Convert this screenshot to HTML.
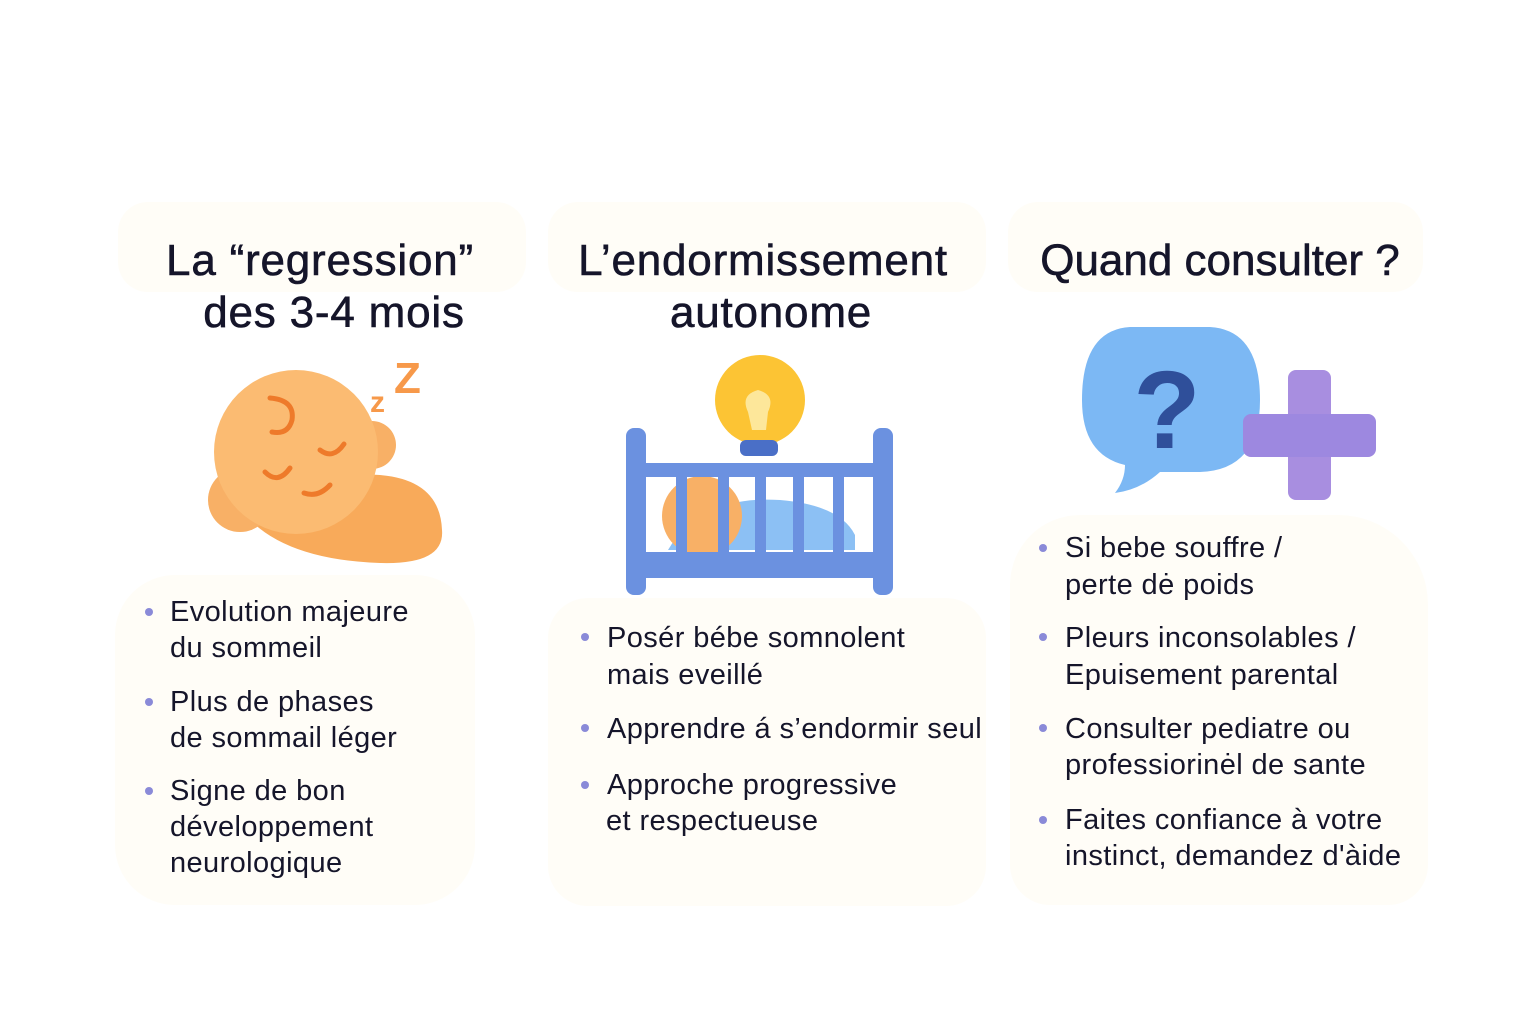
<!DOCTYPE html>
<html><head><meta charset="utf-8"><style>
body{margin:0;width:1536px;height:1024px;background:#fff;position:relative;overflow:hidden;font-family:"Liberation Sans",sans-serif;color:#15152a}
.card{position:absolute;background:#fffdf7;border-radius:30px}
.t{position:absolute;font-size:44px;line-height:52px;white-space:nowrap;transform:translateX(-50%);letter-spacing:0.8px;-webkit-text-stroke:0.6px #15152a}
.l{position:absolute;font-size:29px;line-height:36px;white-space:nowrap;letter-spacing:0.4px}
.b{position:absolute;width:8px;height:8px;border-radius:50%;background:#8a8ad8}
</style></head><body>
<div class="card" style="left:118px;top:202px;width:408px;height:90px"></div>
<div class="card" style="left:548px;top:202px;width:438px;height:90px"></div>
<div class="card" style="left:1008px;top:202px;width:415px;height:90px"></div>
<div class="card" style="left:115px;top:575px;width:360px;height:330px;border-radius:60px"></div>
<div class="card" style="left:548px;top:598px;width:438px;height:308px;border-radius:40px"></div>
<div class="card" style="left:1010px;top:515px;width:418px;height:390px;border-radius:70px 90px 40px 40px"></div>

<div class="t" style="left:320px;top:235px">La “regression”</div>
<div class="t" style="left:334px;top:287px">des 3-4 mois</div>
<div class="t" style="left:763px;top:235px">L’endormissement</div>
<div class="t" style="left:771px;top:287px">autonome</div>
<div class="t" style="left:1220px;top:235px;letter-spacing:0px">Quand consulter ?</div>

<svg style="position:absolute;left:0;top:0" width="1536" height="1024">
<path d="M250 520 Q300 470 380 475 Q440 480 442 530 Q445 565 380 563 Q290 560 250 520Z" fill="#f8aa5a"/>
<circle cx="240" cy="500" r="32" fill="#f8b066"/>
<circle cx="372" cy="445" r="24" fill="#f8b066"/>
<circle cx="296" cy="452" r="82" fill="#fbbb72"/>
<g fill="none" stroke="#ee7a2a" stroke-width="5" stroke-linecap="round">
<path d="M270 398 Q295 400 292 420 Q288 435 272 432"/>
<path d="M320 450 Q333 460 344 444"/>
<path d="M265 472 Q278 485 290 468"/>
<path d="M304 493 Q318 498 330 485"/>
</g>
<text x="370" y="412" font-size="30" font-weight="bold" fill="#f7994a" font-family="Liberation Sans">z</text>
<text x="394" y="393" font-size="44" font-weight="bold" fill="#f7994a" font-family="Liberation Sans">Z</text>
<circle cx="760" cy="400" r="45" fill="#fcc434"/>
<path d="M748 412 Q740 395 758 390 Q776 395 768 412 L766 430 L752 430Z" fill="#fde79a"/>
<rect x="740" y="440" width="38" height="16" rx="6" fill="#4a6fc7"/>
<path d="M668 550 Q700 495 780 500 Q840 505 855 535 L855 550Z" fill="#8cc0f4"/>
<circle cx="702" cy="516" r="40" fill="#f8b066"/>
<rect x="626" y="428" width="20" height="167" rx="8" fill="#6b91e0"/>
<rect x="873" y="428" width="20" height="167" rx="8" fill="#6b91e0"/>
<rect x="640" y="463" width="240" height="14" fill="#6b91e0"/>
<rect x="640" y="552" width="240" height="26" fill="#6b91e0"/>
<g fill="#6b91e0"><rect x="676" y="477" width="11" height="75"/><rect x="718" y="477" width="11" height="75"/><rect x="755" y="477" width="11" height="75"/><rect x="793" y="477" width="11" height="75"/><rect x="833" y="477" width="11" height="75"/></g>
<path d="M1130 327 L1210 327 Q1260 330 1260 400 Q1260 470 1200 472 L1160 472 Q1140 490 1115 493 Q1125 480 1125 465 Q1082 455 1082 400 Q1082 330 1130 327Z" fill="#7cb8f4"/>
<text x="1167" y="448" font-size="110" font-weight="bold" fill="#2f4f9a" text-anchor="middle" font-family="Liberation Sans">?</text>
<rect x="1288" y="370" width="43" height="130" rx="8" fill="#a88ee0"/>
<rect x="1243" y="414" width="133" height="43" rx="8" fill="#9d88e0"/>
</svg>

<div class="b" style="left:145px;top:608px"></div>
<div class="l" style="left:170px;top:594px">Evolution majeure</div>
<div class="l" style="left:170px;top:630px">du sommeil</div>
<div class="b" style="left:145px;top:698px"></div>
<div class="l" style="left:170px;top:684px">Plus de phases</div>
<div class="l" style="left:170px;top:720px">de sommail léger</div>
<div class="b" style="left:145px;top:787px"></div>
<div class="l" style="left:170px;top:773px">Signe de bon</div>
<div class="l" style="left:170px;top:809px">développement</div>
<div class="l" style="left:170px;top:845px">neurologique</div>

<div class="b" style="left:581px;top:633px"></div>
<div class="l" style="left:607px;top:620px">Posér bébe somnolent</div>
<div class="l" style="left:607px;top:657px">mais eveillé</div>
<div class="b" style="left:581px;top:724px"></div>
<div class="l" style="left:607px;top:711px">Apprendre á s’endormir seul</div>
<div class="b" style="left:581px;top:781px"></div>
<div class="l" style="left:607px;top:767px">Approche progressive</div>
<div class="l" style="left:606px;top:803px">et respectueuse</div>

<div class="b" style="left:1039px;top:544px"></div>
<div class="l" style="left:1065px;top:530px">Si bebe souffre /</div>
<div class="l" style="left:1065px;top:567px">perte dė poids</div>
<div class="b" style="left:1039px;top:633px"></div>
<div class="l" style="left:1065px;top:620px">Pleurs inconsolables /</div>
<div class="l" style="left:1065px;top:657px">Epuisement parental</div>
<div class="b" style="left:1039px;top:724px"></div>
<div class="l" style="left:1065px;top:711px">Consulter pediatre ou</div>
<div class="l" style="left:1065px;top:747px">professiorinėl de sante</div>
<div class="b" style="left:1039px;top:816px"></div>
<div class="l" style="left:1065px;top:802px">Faites confiance à votre</div>
<div class="l" style="left:1065px;top:838px">instinct, demandez d'àide</div>
</body></html>
